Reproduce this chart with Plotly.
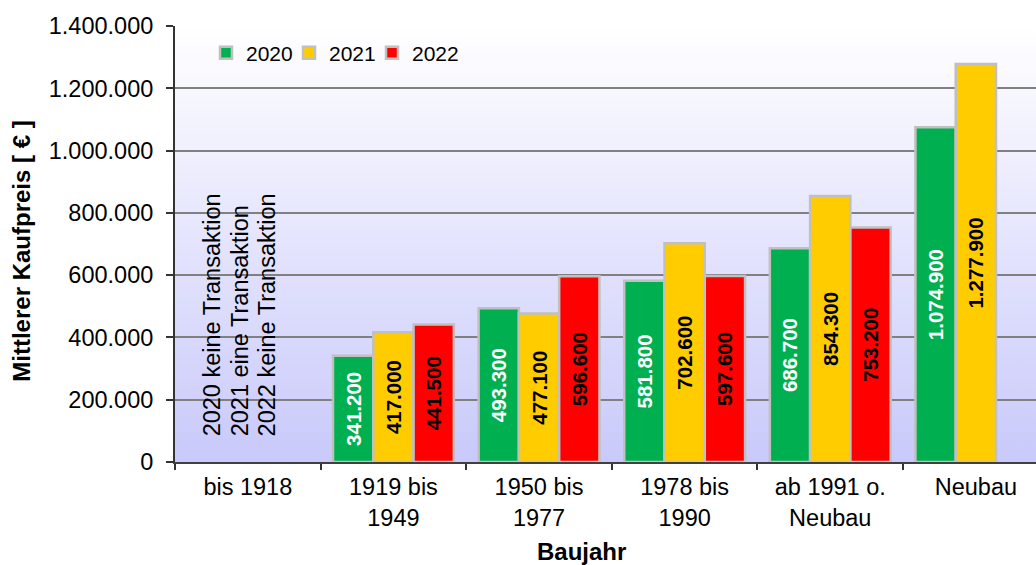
import base64
import plotly.graph_objects as go

# ---------------- data ----------------
categories = ["bis 1918", "1919 bis<br>1949", "1950 bis<br>1977", "1978 bis<br>1990",
              "ab 1991 o.<br>Neubau", "Neubau"]
series_names = ["2020", "2021", "2022"]
values_2020 = [None, 341200, 493300, 581800, 686700, 1074900]
values_2021 = [None, 417000, 477100, 702600, 854300, 1277900]
values_2022 = [None, 441500, 596600, 597600, 753200, None]
y_tick_values = [0, 200000, 400000, 600000, 800000, 1000000, 1200000, 1400000]
notes_bis_1918 = ["2020 keine Transaktion", "2021 eine Transaktion", "2022 keine Transaktion"]
y_title = "Mittlerer Kaufpreis [ € ]"
x_title = "Baujahr"

# ---------------- styling ----------------
colors = ["#00b050", "#ffcc00", "#ff0000"]
text_colors = ["#ffffff", "#000000", "#000000"]
legend_widths = [38, 38, 60]
FONT = "Liberation Sans, Arial, sans-serif"


def de_fmt(v):
    return "" if v is None else f"{v:,}".replace(",", ".")


fig = go.Figure()
for name, vals, col, tcol, lw in zip(series_names, [values_2020, values_2021, values_2022],
                                     colors, text_colors, legend_widths):
    fig.add_trace(go.Bar(
        name=name,
        x=categories,
        y=vals,
        marker=dict(color=col, line=dict(color="#c0c0c0", width=2.5)),
        text=[de_fmt(v) for v in vals],
        textposition="inside",
        insidetextanchor="middle",
        textangle=-90,
        constraintext="none",
        textfont=dict(family=FONT, size=20.5, color=tcol, weight="bold"),
        legendwidth=lw,
        hoverinfo="skip",
    ))

# gradient plot background
svg = ('<svg xmlns="http://www.w3.org/2000/svg" width="100" height="100" '
       'preserveAspectRatio="none"><defs><linearGradient id="g" x1="0" y1="0" x2="0" y2="1">'
       '<stop offset="0" stop-color="#ffffff"/><stop offset="1" stop-color="#c9c9fb"/>'
       '</linearGradient></defs><rect width="100" height="100" fill="url(#g)"/></svg>')
src = "data:image/svg+xml;base64," + base64.b64encode(svg.encode()).decode()

annotations = []
note_x = [-0.247, -0.055, 0.131]
for nx, txt in zip(note_x, notes_bis_1918):
    annotations.append(dict(
        x=nx, y=77000, xref="x", yref="y", text=txt, showarrow=False,
        textangle=-90, xanchor="center", yanchor="bottom",
        font=dict(family=FONT, size=23.5, color="#000000"),
    ))
annotations.append(dict(
    x=-0.178, y=0.484, xref="paper", yref="paper", text="<b>" + y_title + "</b>",
    showarrow=False, textangle=-90, xanchor="center", yanchor="middle",
    font=dict(family=FONT, size=24, color="#000000"),
))
annotations.append(dict(
    x=(581 - 175) / 861, y=-0.205, xref="paper", yref="paper", text="<b>" + x_title + "</b>",
    showarrow=False, xanchor="center", yanchor="middle",
    font=dict(family=FONT, size=24, color="#000000"),
))

fig.update_layout(
    width=1036, height=565,
    margin=dict(l=175, r=0, t=26, b=103),
    paper_bgcolor="#ffffff",
    plot_bgcolor="rgba(0,0,0,0)",
    barmode="group",
    bargap=0.17,
    bargroupgap=0,
    separators=",.",
    font=dict(family=FONT, size=23.5, color="#000000"),
    images=[dict(source=src, xref="paper", yref="paper", x=0, y=1, sizex=1, sizey=1,
                 xanchor="left", yanchor="top", sizing="stretch", layer="below")],
    legend=dict(
        orientation="h", x=0.036, y=0.938, xanchor="left", yanchor="middle",
        bgcolor="rgba(0,0,0,0)", font=dict(family=FONT, size=21, color="#000000"),
        traceorder="normal",
    ),
    annotations=annotations,
    showlegend=True,
)

fig.update_xaxes(
    type="category",
    range=[-0.5, 5.413],
    tickson="boundaries",
    ticks="outside", ticklen=6, tickwidth=1.5, tickcolor="#333333",
    ticklabelstandoff=3,
    showline=True, linecolor="#404040", linewidth=2,
    showgrid=False,
    tickfont=dict(family=FONT, size=23.5, color="#000000"),
)
fig.update_yaxes(
    range=[0, 1400000],
    tickvals=y_tick_values,
    ticktext=[de_fmt(v) for v in y_tick_values],
    ticks="outside", ticklen=7, tickwidth=1.5, tickcolor="#333333",
    ticklabelstandoff=8,
    showline=True, linecolor="#333333", linewidth=2,
    showgrid=True, gridcolor="#808080", gridwidth=2,
    zeroline=False,
    tickfont=dict(family=FONT, size=23.5, color="#000000"),
)

fig.write_html("out.html")
